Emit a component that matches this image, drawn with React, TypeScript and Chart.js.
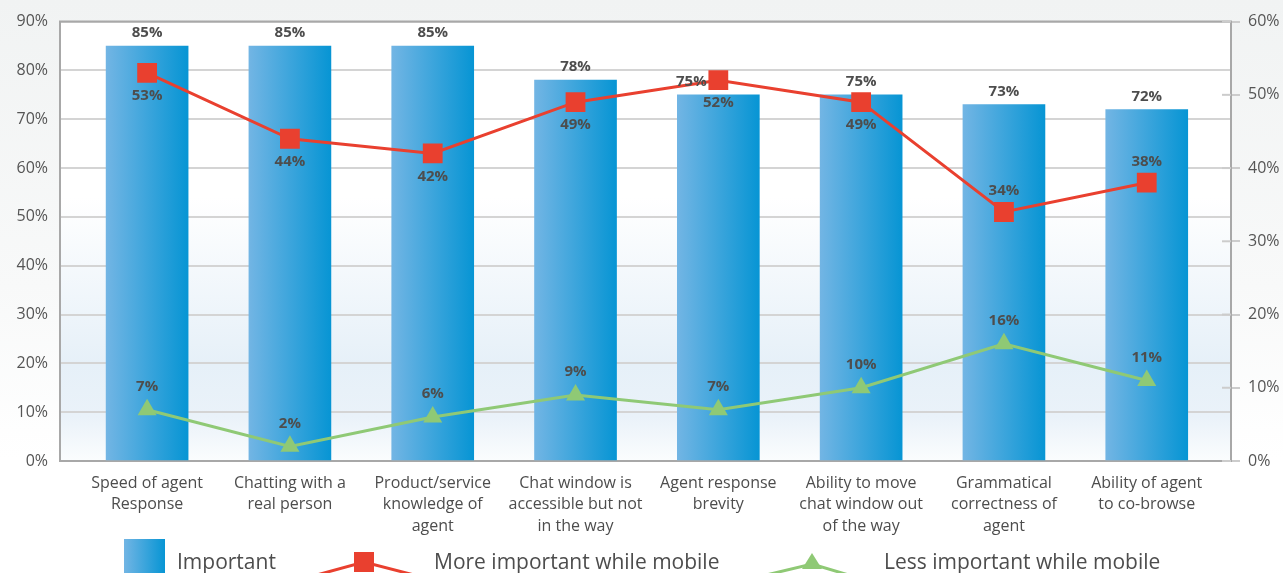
import React, { useEffect, useRef } from 'react';
import { Chart, registerables } from 'chart.js';

Chart.register(...registerables);

const categories: string[][] = [
  ['Speed of agent', 'Response'],
  ['Chatting with a', 'real person'],
  ['Product/service', 'knowledge of', 'agent'],
  ['Chat window is', 'accessible but not', 'in the way'],
  ['Agent response', 'brevity'],
  ['Ability to move', 'chat window out', 'of the way'],
  ['Grammatical', 'correctness of', 'agent'],
  ['Ability of agent', 'to co-browse'],
];
const importantValues = [85, 85, 85, 78, 75, 75, 73, 72];
const moreImportantMobile = [53, 44, 42, 49, 52, 49, 34, 38];
const lessImportantMobile = [7, 2, 6, 9, 7, 10, 16, 11];
const moreLabelAbove = [false, false, false, false, false, false, true, true];
const legendLabels = ['Important', 'More important while mobile', 'Less important while mobile'];

const FONT = '"Open Sans", "Noto Sans", sans-serif';
const TEXT = '#4d4d4d';
const RED = '#e9402f';
const GREEN = '#8fc975';
const AXIS = '#a8a8a8';
const GRID = '#d4d4d4';

function barGradient(ctx: CanvasRenderingContext2D, x: number) {
  const g = ctx.createLinearGradient(x - 41, 0, x + 41, 0);
  g.addColorStop(0, '#72b5e4');
  g.addColorStop(1, '#0795d4');
  return g;
}

const bgPlugin = {
  id: 'bg',
  beforeDraw(chart: any) {
    const { ctx, width, height, chartArea: a } = chart;
    ctx.save();
    const g = ctx.createLinearGradient(0, 0, 0, height);
    g.addColorStop(0, '#f1f3f3');
    g.addColorStop(0.5, '#f8f9f9');
    g.addColorStop(0.8, '#ffffff');
    g.addColorStop(1, '#ffffff');
    ctx.fillStyle = g;
    ctx.fillRect(0, 0, width, height);
    const g2 = ctx.createLinearGradient(0, a.top, 0, a.bottom);
    g2.addColorStop(0, '#ffffff');
    g2.addColorStop(0.4, '#ffffff');
    g2.addColorStop(0.78, '#e6f0f8');
    g2.addColorStop(0.9, '#eaf2f9');
    g2.addColorStop(1, '#fbfdfe');
    ctx.fillStyle = g2;
    ctx.fillRect(a.left, a.top, a.right - a.left, a.bottom - a.top);
    ctx.restore();
  },
};

const framePlugin = {
  id: 'frame',
  afterDraw(chart: any) {
    const { ctx, chartArea: a } = chart;
    ctx.save();
    ctx.strokeStyle = AXIS;
    ctx.lineWidth = 2;
    ctx.beginPath();
    ctx.moveTo(a.left - 1, a.top);
    ctx.lineTo(a.right + 1, a.top);
    ctx.stroke();
    const y1 = chart.scales.y1;
    ctx.strokeStyle = '#cccccc';
    y1.ticks.forEach((t: any) => {
      const y = y1.getPixelForValue(t.value);
      ctx.beginPath();
      ctx.moveTo(a.right - 9, y);
      ctx.lineTo(a.right, y);
      ctx.stroke();
    });
    ctx.restore();
  },
};

const labelPlugin = {
  id: 'valueLabels',
  afterDatasetsDraw(chart: any) {
    const { ctx } = chart;
    ctx.save();
    ctx.font = `bold 15px ${FONT}`;
    ctx.fillStyle = TEXT;
    ctx.textAlign = 'center';
    ctx.textBaseline = 'middle';
    const bars = chart.getDatasetMeta(0).data;
    const reds = chart.getDatasetMeta(1).data;
    bars.forEach((b: any, i: number) => {
      const ly = b.y - 13;
      const collide = reds[i] && Math.abs(reds[i].y - ly) < 16;
      ctx.fillText(importantValues[i] + '%', collide ? b.x - 27 : b.x, ly);
    });
    reds.forEach((p: any, i: number) => {
      ctx.fillText(moreImportantMobile[i] + '%', p.x, moreLabelAbove[i] ? p.y - 21 : p.y + 23);
    });
    const greens = chart.getDatasetMeta(2).data;
    greens.forEach((p: any, i: number) => {
      ctx.fillText(lessImportantMobile[i] + '%', p.x, p.y - 23);
    });
    ctx.restore();
  },
};

const legendPlugin = {
  id: 'customLegend',
  afterDraw(chart: any) {
    const { ctx } = chart;
    ctx.save();
    const sg = ctx.createLinearGradient(124, 0, 165, 0);
    sg.addColorStop(0, '#72b5e4');
    sg.addColorStop(1, '#0795d4');
    ctx.fillStyle = sg;
    ctx.fillRect(124, 539, 41, 40);
    ctx.strokeStyle = RED;
    ctx.lineWidth = 3;
    ctx.beginPath();
    ctx.moveTo(313, 576);
    ctx.lineTo(364, 562);
    ctx.lineTo(418, 576);
    ctx.stroke();
    ctx.fillStyle = RED;
    ctx.fillRect(354, 552, 20, 20);
    ctx.strokeStyle = GREEN;
    ctx.beginPath();
    ctx.moveTo(762, 576);
    ctx.lineTo(812, 564);
    ctx.lineTo(852, 576);
    ctx.stroke();
    ctx.fillStyle = GREEN;
    ctx.beginPath();
    ctx.moveTo(812, 553);
    ctx.lineTo(822, 569);
    ctx.lineTo(802, 569);
    ctx.closePath();
    ctx.fill();
    ctx.fillStyle = TEXT;
    ctx.font = `21px ${FONT}`;
    ctx.textAlign = 'left';
    ctx.textBaseline = 'alphabetic';
    ctx.fillText(legendLabels[0], 177, 569);
    ctx.fillText(legendLabels[1], 434, 569);
    ctx.fillText(legendLabels[2], 884, 569);
    ctx.restore();
  },
};

export default function App() {
  const ref = useRef<HTMLCanvasElement | null>(null);
  useEffect(() => {
    document.body.style.margin = '0';
    const canvas = ref.current;
    if (!canvas) return;
    const chart = new Chart(canvas, {
      type: 'bar',
      data: {
        datasets: [
          {
            type: 'bar',
            label: legendLabels[0],
            data: importantValues.map((v, i) => ({ x: i, y: v })),
            barThickness: 82,
            yAxisID: 'y',
            order: 3,
            backgroundColor: (c: any) => {
              const chartObj = c.chart;
              const xs = chartObj.scales && chartObj.scales.x;
              if (!xs || c.dataIndex === undefined) return '#3aa3dc';
              const px = xs.getPixelForValue(c.dataIndex);
              if (!isFinite(px)) return '#3aa3dc';
              return barGradient(chartObj.ctx, px);
            },
          } as any,
          {
            type: 'line',
            label: legendLabels[1],
            data: moreImportantMobile.map((v, i) => ({ x: i, y: v })),
            yAxisID: 'y1',
            borderColor: RED,
            backgroundColor: RED,
            borderWidth: 3,
            pointStyle: 'rect',
            pointRadius: 14,
            pointBorderWidth: 0,
            order: 1,
          } as any,
          {
            type: 'line',
            label: legendLabels[2],
            data: lessImportantMobile.map((v, i) => ({ x: i, y: v })),
            yAxisID: 'y1',
            borderColor: GREEN,
            backgroundColor: GREEN,
            borderWidth: 3,
            pointStyle: 'triangle',
            pointRadius: 11,
            pointBorderWidth: 0,
            order: 2,
          } as any,
        ],
      },
      options: {
        responsive: false,
        animation: false,
        events: [],
        layout: { padding: { top: 20, left: 0, right: 0, bottom: 0 } },
        plugins: {
          legend: { display: false },
          tooltip: { enabled: false },
        },
        scales: {
          x: {
            type: 'linear',
            offset: false,
            min: -0.61,
            max: 7.59,
            afterBuildTicks: (s: any) => {
              s.ticks = categories.map((_, i) => ({ value: i }));
            },
            afterFit: (s: any) => {
              s.height = 112;
            },
            grid: { display: false, drawTicks: false, offset: false },
            border: { color: AXIS, width: 2 },
            ticks: {
              autoSkip: false,
              maxRotation: 0,
              padding: 11,
              color: TEXT,
              font: { family: FONT, size: 16, lineHeight: 1.37 },
              callback: (v: any) => categories[v as number] || '',
            },
          },
          y: {
            position: 'left',
            min: 0,
            max: 90,
            afterFit: (s: any) => {
              s.width = 60;
            },
            ticks: {
              stepSize: 10,
              padding: 12,
              color: '#555555',
              font: { family: FONT, size: 16 },
              callback: (v: any) => v + '%',
            },
            grid: { color: GRID, lineWidth: 2, drawTicks: false },
            border: { color: AXIS, width: 2 },
          },
          y1: {
            position: 'right',
            min: 0,
            max: 60,
            afterFit: (s: any) => {
              s.width = 52;
            },
            ticks: {
              stepSize: 10,
              padding: 8,
              color: '#555555',
              font: { family: FONT, size: 16 },
              callback: (v: any) => v + '%',
            },
            grid: {
              drawOnChartArea: false,
              drawTicks: true,
              tickLength: 9,
              tickColor: '#cccccc',
              tickWidth: 2,
              lineWidth: 2,
            },
            border: { color: AXIS, width: 2 },
          },
        },
      } as any,
      plugins: [bgPlugin, labelPlugin, framePlugin, legendPlugin],
    });
    return () => chart.destroy();
  }, []);
  return (
    <div style={{ width: 1283, height: 573 }}>
      <canvas ref={ref} width={1283} height={573} style={{ display: 'block' }} />
    </div>
  );
}
